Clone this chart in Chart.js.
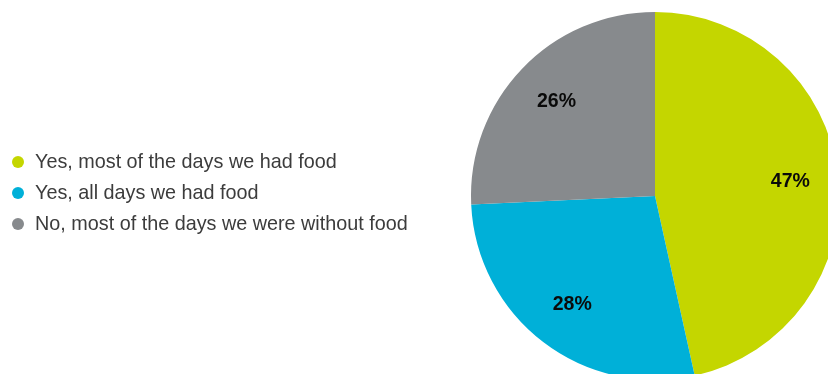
<!DOCTYPE html>
<html>
<head>
<meta charset="utf-8">
<script src="https://cdn.jsdelivr.net/npm/chart.js@4"></script>
<style>
  html, body { margin: 0; padding: 0; background: #fff; overflow: hidden; }
  #wrap { position: relative; width: 828px; height: 374px; overflow: hidden; }
  #chart-box { position: absolute; left: 0; top: 0; width: 860px; height: 400px; }
  #legend { position: absolute; left: 12px; top: 148px; font-family: "Liberation Sans", Arial, sans-serif; font-size: 19.8px; color: #3c3c3c; }
  #legend div { height: 31px; line-height: 26px; white-space: nowrap; }
  #legend span.dot { display: inline-block; width: 12px; height: 12px; border-radius: 50%; margin-right: 11px; vertical-align: 0px; }
</style>
</head>
<body>
<div id="wrap">
  <div id="chart-box"><canvas id="pie" width="860" height="400"></canvas></div>
  <div id="legend"></div>
</div>
<script>
// answers and their shares (percent)
const categories = ['Yes, most of the days we had food', 'Yes, all days we had food', 'No, most of the days we were without food'];
const shares = [47, 28, 26];
const colors = ['#c4d600', '#00b0d8', '#878a8d'];

// legend as plain html on the left
const legendEl = document.getElementById('legend');
categories.forEach((c, i) => {
  const row = document.createElement('div');
  row.innerHTML = `<span class="dot" style="background:${colors[i]}"></span>${c}`;
  legendEl.appendChild(row);
});

// percent labels inside each slice
const sliceLabels = {
  id: 'sliceLabels',
  afterDatasetsDraw(chart){
    const ctx = chart.ctx;
    const meta = chart.getDatasetMeta(0);
    ctx.save();
    ctx.font = 'bold 19.5px "Liberation Sans", Arial, sans-serif';
    ctx.fillStyle = '#0a0a0a';
    ctx.textAlign = 'center';
    ctx.textBaseline = 'middle';
    meta.data.forEach((arc, i) => {
      const p = arc.getProps(['x', 'y', 'startAngle', 'endAngle', 'outerRadius'], true);
      const mid = (p.startAngle + p.endAngle) / 2;
      const r = p.outerRadius * 0.74;
      ctx.fillText(shares[i] + '%', p.x + Math.cos(mid) * r, p.y + Math.sin(mid) * r);
    });
    ctx.restore();
  }
};

new Chart(document.getElementById('pie').getContext('2d'), {
  type: 'pie',
  data: {
    labels: categories,
    datasets: [{ data: shares, backgroundColor: colors, borderWidth: 0 }]
  },
  options: {
    responsive: false,
    animation: false,
    layout: { padding: { left: 471, right: 21, top: 12, bottom: 20 } },
    plugins: { legend: { display: false }, tooltip: { enabled: false } }
  },
  plugins: [sliceLabels]
});
</script>
</body>
</html>
